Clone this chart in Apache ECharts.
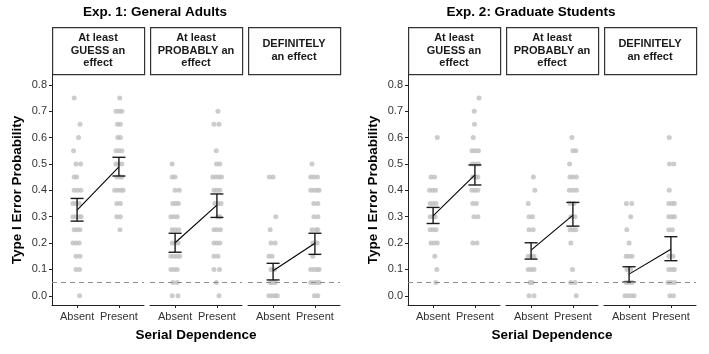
<!DOCTYPE html>
<html>
<head>
<meta charset="utf-8">
<script src="https://cdn.jsdelivr.net/npm/echarts@6.0.0/dist/echarts.min.js"></script>
<style>
  html, body { margin: 0; padding: 0; background: #fff; }
  #chart { width: 709px; height: 354px; }
</style>
</head>
<body>
<div id="chart"></div>
<script>
// data
const conditions = ['Absent', 'Present'];
const facetLabels = ['At least\nGUESS an\neffect', 'At least\nPROBABLY an\neffect', 'DEFINITELY\nan effect'];
const expTitles = ['Exp. 1: General Adults', 'Exp. 2: Graduate Students'];
const yTickValues = [0, 0.1, 0.2, 0.3, 0.4, 0.5, 0.6, 0.7, 0.8];
const refLevel = 0.05;

// mean and interval per facet: [Absent, Present]
const exp1Means = [[0.325, 0.489], [0.201, 0.344], [0.095, 0.199]];
const exp1Low   = [[0.283, 0.454], [0.165, 0.297], [0.060, 0.157]];
const exp1High  = [[0.369, 0.525], [0.237, 0.386], [0.123, 0.237]];
const exp2Means = [[0.303, 0.458], [0.173, 0.306], [0.082, 0.176]];
const exp2Low   = [[0.274, 0.420], [0.139, 0.264], [0.052, 0.133]];
const exp2High  = [[0.335, 0.496], [0.201, 0.354], [0.110, 0.224]];

// individual responses: [value, [jitter offsets]] for Absent, then Present
const exp1Guess = [
  [[0.75,[-0.07]],[0.65,[0.07]],[0.60,[0.035]],[0.55,[-0.085]],[0.50,[-0.025,0.085]],[0.45,[-0.07,-0.01]],
   [0.40,[-0.07,0.01,0.09]],[0.35,[-0.1,-0.025,0.05]],[0.30,[-0.1,-0.025,0.05,0.1]],[0.25,[-0.07,0,0.07]],
   [0.20,[-0.1,-0.025,0.05]],[0.15,[-0.025,0.07]],[0.10,[-0.025,0.06]],[0.00,[0.06]]],
  [[0.75,[0.02]],[0.70,[-0.07,0,0.07]],[0.65,[-0.035,0.035]],[0.60,[-0.025,0.035]],[0.55,[-0.07,0,0.07]],
   [0.50,[-0.07,0,0.07]],[0.45,[-0.05,0.025,0.07]],[0.40,[-0.1,-0.025,0.05,0.1]],[0.35,[-0.05,0.035]],
   [0.30,[-0.05,0.035]],[0.25,[0.025]]]
];
const exp1Probably = [
  [[0.50,[-0.07]],[0.45,[-0.07,0]],[0.40,[0,0.1]],[0.35,[-0.055,0.015,0.08]],[0.30,[-0.1,-0.025,0.05]],
   [0.25,[-0.07,0,0.085]],[0.20,[-0.07,0,0.07]],[0.15,[-0.1,-0.025,0.05,0.11]],[0.10,[-0.1,-0.025,0.05]],
   [0.05,[-0.05,0.05]],[0.00,[-0.07,0.07]]],
  [[0.70,[0.025]],[0.65,[-0.07,0.05]],[0.55,[-0.015]],[0.50,[-0.01,0.07]],[0.45,[-0.1,-0.025,0.05,0.11]],
   [0.40,[-0.07,0,0.07]],[0.35,[-0.05,0.025,0.1]],[0.30,[0.025,0.07]],[0.25,[-0.07,0,0.085]],
   [0.20,[-0.07,0,0.07]],[0.15,[-0.07,0.025]],[0.10,[-0.07,0.06]],[0.05,[-0.01]],[0.00,[0.05]]]
];
const exp1Definitely = [
  [[0.45,[-0.09,0]],[0.30,[0.065]],[0.25,[-0.07]],[0.20,[-0.05,0.05]],[0.15,[-0.1,-0.025]],
   [0.10,[-0.05,0.035]],[0.05,[-0.07,0,0.05]],[0.00,[-0.1,-0.025,0.05,0.1]]],
  [[0.50,[-0.07]],[0.45,[-0.1,-0.025,0.06]],[0.40,[-0.1,-0.025,0.05,0.1]],[0.35,[-0.025,0.07]],
   [0.30,[-0.025,0.07]],[0.25,[-0.07,0.025,0.07]],[0.20,[-0.05,0.05]],[0.15,[-0.05]],
   [0.10,[-0.1,-0.025,0.05,0.1]],[0.05,[-0.1,-0.025,0.05,0.1]],[0.00,[-0.01,0.07]]]
];
const exp2Guess = [
  [[0.60,[0.1]],[0.45,[-0.05,0.035]],[0.40,[-0.085,-0.01,0.06]],[0.35,[-0.07,0,0.07]],[0.30,[-0.07,0,0.05]],
   [0.25,[-0.07,0,0.07]],[0.20,[-0.05,0.025,0.1]],[0.15,[0.04]],[0.10,[0.09]],[0.05,[0.065]]],
  [[0.75,[0.1]],[0.70,[-0.015]],[0.65,[-0.01]],[0.60,[-0.04]],[0.55,[-0.07,0,0.085]],[0.50,[-0.07,0,0.085]],
   [0.45,[-0.05,0.025,0.07]],[0.40,[-0.07,0,0.07]],[0.35,[-0.05,0.035]],[0.30,[-0.025,0.07]],[0.20,[-0.05,0.05]]]
];
const exp2Probably = [
  [[0.45,[0.055]],[0.40,[0.09]],[0.35,[-0.07]],[0.30,[-0.05,0.035]],[0.25,[-0.05,0.05]],
   [0.15,[-0.07,0,0.07]],[0.10,[-0.07,0,0.07]],[0.05,[-0.025,0.025]],[0.00,[-0.05,0.07]]],
  [[0.60,[-0.025]],[0.55,[0,0.07]],[0.50,[-0.08]],[0.45,[-0.07,0,0.085]],[0.40,[-0.085,0,0.085]],
   [0.35,[-0.07,0.025]],[0.30,[-0.05,0.05]],[0.25,[-0.07,0,0.07]],[0.20,[-0.05]],[0.10,[-0.01]],
   [0.05,[-0.05,0.05]],[0.00,[0.08]]]
];
const exp2Definitely = [
  [[0.35,[-0.065,0.065]],[0.30,[0.04]],[0.25,[-0.055]],[0.20,[0]],[0.15,[-0.07,0,0.07]],
   [0.10,[-0.05,0.035]],[0.05,[-0.07,0,0.07]],[0.00,[-0.1,-0.025,0.05,0.12]]],
  [[0.60,[-0.04]],[0.50,[-0.035,0.07]],[0.40,[-0.04]],[0.35,[-0.05,0.025,0.085]],[0.30,[-0.05,0.025,0.085]],
   [0.25,[-0.05,0.035]],[0.15,[-0.05,0.05]],[0.10,[-0.05,0.025,0.085]],[0.05,[-0.07,0,0.085]],[0.00,[-0.025,0.06]]]
];

const panels = [
  { exp: 0, facet: 0, pts: exp1Guess,      mean: exp1Means[0], lo: exp1Low[0], hi: exp1High[0] },
  { exp: 0, facet: 1, pts: exp1Probably,   mean: exp1Means[1], lo: exp1Low[1], hi: exp1High[1] },
  { exp: 0, facet: 2, pts: exp1Definitely, mean: exp1Means[2], lo: exp1Low[2], hi: exp1High[2] },
  { exp: 1, facet: 0, pts: exp2Guess,      mean: exp2Means[0], lo: exp2Low[0], hi: exp2High[0] },
  { exp: 1, facet: 1, pts: exp2Probably,   mean: exp2Means[1], lo: exp2Low[1], hi: exp2High[1] },
  { exp: 1, facet: 2, pts: exp2Definitely, mean: exp2Means[2], lo: exp2Low[2], hi: exp2High[2] }
];

// layout
const FONT = '"Liberation Sans", Arial, sans-serif';
const panelLefts = [52, 150, 248, 408, 506, 604];
const panelW = 92;
const panelTop = 75;
const panelH = 230;
const stripTop = 27;
const stripH = 47;

const grids = [], xAxes = [], yAxes = [], series = [], graphics = [];

panels.forEach(function (p, i) {
  const first = p.facet === 0;
  grids.push({ left: panelLefts[i], top: panelTop, width: panelW, height: panelH });

  xAxes.push({
    type: 'value', gridIndex: i, min: 0.4, max: 2.6,
    splitLine: { show: false },
    axisLine: { show: true, onZero: false, lineStyle: { color: '#222', width: 1 } },
    axisTick: { show: true, length: 3, customValues: [1, 2], lineStyle: { color: '#222' } },
    axisLabel: {
      customValues: [1, 2], margin: 6, color: '#333', fontSize: 11, fontFamily: FONT,
      formatter: function (v) { return conditions[Math.round(v) - 1]; }
    }
  });

  yAxes.push({
    type: 'value', gridIndex: i, min: -0.035, max: 0.837,
    splitLine: { show: false },
    axisLine: { show: first, lineStyle: { color: '#222', width: 1 } },
    axisTick: { show: first, length: 3, customValues: yTickValues, lineStyle: { color: '#222' } },
    axisLabel: {
      show: first, customValues: yTickValues, margin: 5, color: '#333', fontSize: 11, fontFamily: FONT,
      formatter: function (v) { return v.toFixed(1); }
    },
    name: first ? 'Type I Error Probability' : '',
    nameLocation: 'middle', nameGap: 28,
    nameTextStyle: { fontSize: 13.5, fontWeight: 'bold', color: '#000', fontFamily: FONT }
  });

  const pts = [];
  p.pts.forEach(function (rows, c) {
    rows.forEach(function (r) {
      r[1].forEach(function (o) { pts.push([c + 1 + o, r[0]]); });
    });
  });

  series.push({
    type: 'scatter', xAxisIndex: i, yAxisIndex: i, data: pts,
    symbolSize: 5, itemStyle: { color: '#bfbfbf' }, silent: true, z: 1
  });

  series.push({
    type: 'custom', xAxisIndex: i, yAxisIndex: i, z: 4, silent: true,
    data: [0, 1].map(function (c) { return [c + 1, p.lo[c], p.hi[c]]; }),
    renderItem: function (params, api) {
      const x = api.value(0);
      const a = api.coord([x, api.value(1)]);
      const b = api.coord([x, api.value(2)]);
      const st = { stroke: '#1a1a1a', lineWidth: 1.4 };
      return {
        type: 'group',
        children: [
          { type: 'line', shape: { x1: a[0], y1: a[1], x2: b[0], y2: b[1] }, style: st },
          { type: 'line', shape: { x1: a[0] - 6.5, y1: a[1], x2: a[0] + 6.5, y2: a[1] }, style: st },
          { type: 'line', shape: { x1: b[0] - 6.5, y1: b[1], x2: b[0] + 6.5, y2: b[1] }, style: st }
        ]
      };
    }
  });

  series.push({
    type: 'line', xAxisIndex: i, yAxisIndex: i, z: 3, silent: true,
    data: [[1, p.mean[0]], [2, p.mean[1]]],
    symbol: 'none', lineStyle: { color: '#000', width: 1.1 },
    markLine: {
      silent: true, symbol: ['none', 'none'], label: { show: false },
      lineStyle: { color: '#8c8c8c', type: [5, 4], width: 1 },
      data: [{ yAxis: refLevel }]
    }
  });

  // facet strip
  graphics.push({
    type: 'rect', left: panelLefts[i], top: stripTop,
    shape: { width: panelW, height: stripH },
    style: { fill: '#fff', stroke: '#333', lineWidth: 1.2 }
  });
  graphics.push({
    type: 'text', x: panelLefts[i] + panelW / 2, y: stripTop + stripH / 2,
    style: {
      text: facetLabels[p.facet], align: 'center', verticalAlign: 'middle',
      font: 'bold 11px ' + FONT, lineHeight: 12.5, fill: '#1a1a1a'
    }
  });
});

// experiment titles and x titles
const titleX = [155, 531];
const xTitleX = [196, 552];
expTitles.forEach(function (t, e) {
  graphics.push({
    type: 'text', x: titleX[e], y: 12,
    style: { text: t, align: 'center', verticalAlign: 'middle', font: 'bold 13.5px ' + FONT, fill: '#000' }
  });
  graphics.push({
    type: 'text', x: xTitleX[e], y: 335,
    style: { text: 'Serial Dependence', align: 'center', verticalAlign: 'middle', font: 'bold 13.5px ' + FONT, fill: '#000' }
  });
});

const chart = echarts.init(document.getElementById('chart'), null, { renderer: 'canvas' });
chart.setOption({
  animation: false,
  backgroundColor: '#fff',
  grid: grids,
  xAxis: xAxes,
  yAxis: yAxes,
  series: series,
  graphic: graphics
});
</script>
</body>
</html>
